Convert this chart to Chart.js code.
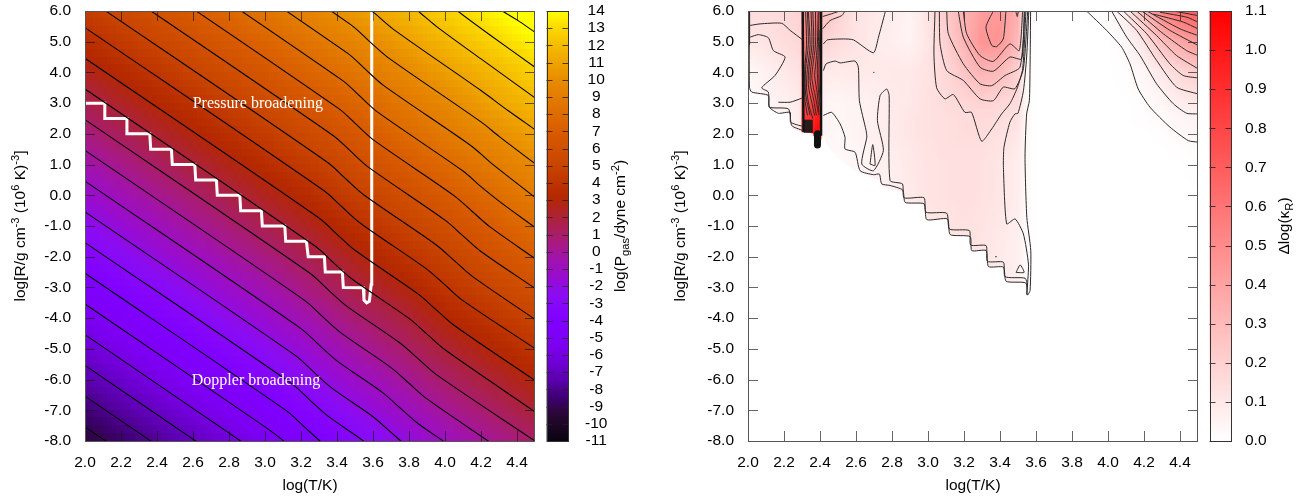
<!DOCTYPE html>
<html>
<head>
<meta charset="utf-8">
<title>Pressure and Doppler broadening</title>
<script src="https://cdn.jsdelivr.net/npm/chart.js@4"></script>
<style>
  html, body { margin:0; padding:0; background:#fff; }
  #wrap { position:relative; width:1308px; height:498px; overflow:hidden; }
  canvas { position:absolute; top:0; display:block; }
</style>
</head>
<body>
<div id="wrap">
  <canvas id="pressureChart" width="541" height="498" style="left:0"></canvas>
  <canvas id="pressureBar" width="119" height="498" style="left:541px"></canvas>
  <canvas id="deltaChart" width="544" height="498" style="left:660px"></canvas>
  <canvas id="deltaBar" width="104" height="498" style="left:1204px"></canvas>
</div>
<script>
/* ---------- Axis ticks ---------- */
const tempTicks = [2.0,2.2,2.4,2.6,2.8,3.0,3.2,3.4,3.6,3.8,4.0,4.2,4.4];
const radiusTicks = [6,5,4,3,2,1,0,-1,-2,-3,-4,-5,-6,-7,-8];
const pressureBarTicks = [14,13,12,11,10,9,8,7,6,5,4,3,2,1,0,-1,-2,-3,-4,-5,-6,-7,-8,-9,-10,-11];
const deltaBarTicks = [1.1,1.0,0.9,0.8,0.7,0.6,0.5,0.4,0.3,0.2,0.1,0.0];

/* ---------- Left panel: log Pgas ---------- */
const pressureT = [2.0,2.25,2.5,2.75,3.0,3.25,3.5,3.75,4.0,4.25,4.5];
const pressureR = [6,5,4,3,2,1,0,-1,-2,-3,-4,-5,-6,-7,-8];
const pressureGrid = [
  [4.54,5.54,6.54,7.54,8.54,9.54,10.54,11.64,12.74,13.74,14.74],
  [3.54,4.54,5.54,6.54,7.54,8.54,9.54,10.64,11.74,12.74,13.74],
  [2.54,3.54,4.54,5.54,6.54,7.54,8.54,9.64,10.74,11.74,12.74],
  [1.54,2.54,3.54,4.54,5.54,6.54,7.54,8.64,9.74,10.89,11.89],
  [0.54,1.54,2.54,3.54,4.54,5.54,6.54,7.75,8.84,9.89,10.89],
  [-0.46,0.54,1.54,2.54,3.54,4.54,5.69,6.75,7.84,8.89,9.89],
  [-1.46,-0.46,0.54,1.54,2.54,3.54,4.69,5.75,6.84,7.89,9.04],
  [-2.46,-1.46,-0.46,0.54,1.54,2.54,3.69,4.75,5.84,6.89,8.04],
  [-3.46,-2.46,-1.46,-0.46,0.54,1.54,2.69,3.8,4.84,6.04,7.04],
  [-4.46,-3.46,-2.46,-1.46,-0.46,0.64,1.81,2.8,4.04,5.04,6.04],
  [-5.46,-4.46,-3.46,-2.46,-1.46,-0.36,0.81,1.8,3.04,4.04,5.04],
  [-6.46,-5.46,-4.46,-3.46,-2.46,-1.36,-0.19,0.89,2.04,3.04,4.04],
  [-7.46,-6.46,-5.46,-4.46,-3.46,-2.36,-1.19,-0.11,1.04,2.04,3.04],
  [-8.46,-7.46,-6.46,-5.46,-4.46,-3.36,-2.19,-1.11,0.04,1.04,2.04],
  [-9.46,-8.46,-7.46,-6.46,-5.46,-4.36,-3.19,-2.11,-0.96,0.04,1.04]
];
const pressureStops = [-11,-9.5,-8.5,-7.5,-6.5,-5.5,-4,-2.5,-1.5,-0.5,0.5,1.5,2.5,3.2,4,5,7,8,10,11,12,13,14];
const pressureColors = ["#0a0410","#280832","#3e0070","#5a00aa","#6e00d2","#7c00f0","#8000ff","#8a0cf4","#980cd0","#a012b0","#a81a80","#aa2050","#b02420","#b42800","#be3400","#c84400","#d85c00","#de6c00","#e88c00","#efa400","#f5bc00","#fbd800","#ffff00"];

// isobars, one per integer level, as [logT, logR]
const pressureContours = [
  [[2,-7.54],[2.2,-8.34]],
  [[2,-6.54],[2.5,-8.54]],
  [[2,-5.54],[2.7,-8.34]],
  [[2,-4.54],[2.95,-8.34]],
  [[2,-3.54],[3.0,-7.54],[3.1,-7.98],[3.2,-8.5]],
  [[2,-2.54],[3.12,-7.02],[3.22,-7.55],[3.32,-8.07],[3.42,-8.5]],
  [[2,-1.54],[3.15,-6.14],[3.25,-6.67],[3.35,-7.19],[3.55,-8.01],[3.65,-8.5]],
  [[2,-0.54],[3.17,-5.22],[3.27,-5.75],[3.37,-6.27],[3.6,-7.21],[3.7,-7.72],[3.8,-8.23]],
  [[2,0.46],[3.2,-4.34],[3.3,-4.87],[3.4,-5.39],[3.65,-6.41],[3.75,-6.92],[3.85,-7.43],[4.0,-8.04]],
  [[2,1.46],[3.22,-3.42],[3.32,-3.95],[3.42,-4.47],[3.7,-5.61],[3.8,-6.12],[3.9,-6.63],[4.25,-8.04]],
  [[2,2.46],[3.25,-2.54],[3.35,-3.07],[3.45,-3.59],[3.75,-4.81],[3.85,-5.32],[3.95,-5.83],[4.5,-8.0]],
  [[2,3.46],[3.28,-1.66],[3.38,-2.19],[3.48,-2.71],[3.8,-4.01],[3.9,-4.52],[4.0,-5.03],[4.5,-7.05]],
  [[2,4.46],[3.3,-0.74],[3.4,-1.27],[3.5,-1.79],[3.85,-3.21],[3.95,-3.72],[4.05,-4.23],[4.5,-6.03]],
  [[2,5.46],[3.33,0.14],[3.43,-0.39],[3.53,-0.91],[3.9,-2.41],[4.0,-2.92],[4.1,-3.43],[4.5,-4.99]],
  [[2,6.46],[3.35,1.06],[3.45,0.53],[3.55,0.01],[3.95,-1.61],[4.05,-2.12],[4.15,-2.63],[4.5,-4.04]],
  [[2,7.46],[3.38,1.94],[3.48,1.41],[3.58,0.89],[4.0,-0.81],[4.1,-1.32],[4.2,-1.83],[4.5,-3.03]],
  [[2,8.46],[3.41,2.82],[3.51,2.29],[3.61,1.77],[4.05,-0.01],[4.15,-0.52],[4.25,-1.03],[4.5,-2.06]],
  [[2,9.46],[3.43,3.74],[3.53,3.21],[3.63,2.69],[4.1,0.79],[4.2,0.28],[4.3,-0.19],[4.5,-1.05]],
  [[2,10.46],[3.46,4.62],[3.56,4.09],[3.66,3.57],[4.15,1.59],[4.25,1.08],[4.5,-0.07]],
  [[2.5,9.46],[3.48,5.54],[3.58,5.01],[3.68,4.5],[4.2,2.39],[4.3,1.92],[4.5,1.03]],
  [[3.0,8.46],[3.5,6.46],[3.61,5.92],[3.71,5.42],[4.2,3.41],[4.35,2.76],[4.5,2.14]],
  [[3.75,6.46],[3.85,6.0],[3.95,5.51],[4.2,4.44],[4.5,3.17]],
  [[3.95,6.56],[4.07,6.0],[4.25,5.22],[4.5,4.17]],
  [[4.2,6.54],[4.32,6.0],[4.4,5.71],[4.5,5.31]]
];

// white border between the two broadening regimes
const regimeLine = [[2,3],[2.11,3],[2.11,2.5],[2.233,2.5],[2.233,2],[2.36,2],[2.365,1.5],[2.48,1.5],[2.485,1],[2.61,1],
  [2.615,0.5],[2.73,0.5],[2.735,0],[2.86,0],[2.865,-0.5],[2.98,-0.5],[2.985,-1],[3.11,-1],[3.115,-1.5],[3.23,-1.5],
  [3.24,-2],[3.33,-2],[3.335,-2.5],[3.43,-2.5],[3.435,-3],[3.546,-3.01],[3.55,-3.41],[3.565,-3.5],[3.58,-3.45],
  [3.59,-2.9],[3.593,6]];

const regimeLabels = ["Pressure broadening","Doppler broadening"];
const regimeLabelT = [2.96,2.95];
const regimeLabelR = [2.98,-6.03];

/* ---------- Right panel: delta log kappa ---------- */
const deltaT = [2.0,2.1,2.2,2.3,2.31,2.35,2.4,2.41,2.5,2.6,2.7,2.8,2.9,3.0,3.1,3.2,3.3,3.4,3.5,3.55,3.6,3.8,4.0,4.1,4.2,4.3,4.4,4.5];
const deltaR = [6,5,4,3,2.5,2,1.5,1,0,-1,-2,-3,-3.5];
const deltaGrid = [
  [.16,.15,.16,.2,.5,.55,.62,.3,.2,.12,.1,.08,.05,.12,.22,.33,.42,.44,.35,.05,0,0,.01,.08,.3,.55,.65,.72],
  [.1,.12,.15,.17,.55,.6,.68,.2,.15,.12,.09,.07,.05,.11,.2,.32,.46,.46,.3,.04,0,0,0,.03,.12,.28,.38,.45],
  [.03,.06,.1,.13,.65,.7,.8,.1,.09,.1,.09,.1,.1,.12,.17,.25,.33,.3,.2,.03,0,0,0,.01,.04,.1,.17,.22],
  [.03,.05,.06,.1,.75,.8,.95,.05,.04,.05,.07,.09,.1,.13,.15,.17,.19,.17,.15,.03,0,0,0,0,.01,.04,.08,.1],
  [.03,.06,.06,.08,.85,.9,1.0,.06,.04,.05,.07,.09,.11,.13,.14,.15,.16,.15,.13,.03,0,0,0,0,.01,.02,.04,.06],
  [.03,.06,.06,.08,.9,.95,1.1,.05,.03,.05,.07,.09,.11,.13,.14,.15,.15,.13,.11,.03,0,0,0,0,0,.01,.03,.04],
  [.03,.06,.06,.08,.9,.95,1.1,.03,.03,.04,.06,.08,.1,.12,.14,.14,.14,.12,.09,.03,0,0,0,0,0,0,.01,.02],
  [.03,.03,.03,.03,.03,.03,.03,.03,.02,.04,.06,.07,.1,.12,.13,.14,.13,.11,.08,.03,0,0,0,0,0,0,0,.01],
  [.03,.03,.03,.03,.03,.03,.03,.03,.02,.04,.05,.07,.09,.12,.13,.14,.13,.11,.08,.02,0,0,0,0,0,0,0,0],
  [.03,.03,.03,.03,.03,.03,.03,.03,.02,.04,.05,.07,.09,.1,.12,.13,.12,.1,.07,.02,0,0,0,0,0,0,0,0],
  [.03,.03,.03,.03,.03,.03,.03,.03,.02,.04,.05,.07,.09,.1,.12,.12,.11,.09,.07,.02,0,0,0,0,0,0,0,0],
  [.03,.03,.03,.03,.03,.03,.03,.03,.02,.04,.05,.07,.09,.1,.12,.12,.11,.09,.07,.02,0,0,0,0,0,0,0,0],
  [.03,.03,.03,.03,.03,.03,.03,.03,.02,.04,.05,.07,.09,.1,.12,.12,.11,.09,.07,.02,0,0,0,0,0,0,0,0]
];
const deltaStops = [0,1.1];
const deltaColors = ["#ffffff","#ff0000"];

// edge of the tabulated region, nothing is shaded outside it
const deltaEdge = [[2,6],[2,3.46],[2.021,3.3],[2.108,3.22],[2.119,2.76],[2.23,2.65],[2.243,2.16],[2.308,2.05],[2.363,2.02],
  [2.373,1.7],[2.397,1.7],[2.419,1.94],[2.447,1.56],[2.493,1.24],[2.613,0.75],[2.734,0.48],[2.743,0.28],[2.863,0.1],
  [2.873,-0.28],[2.978,-0.28],[2.993,-0.79],[3.108,-0.77],[3.123,-1.28],[3.234,-1.345],[3.243,-1.8],[3.323,-1.8],
  [3.336,-2.32],[3.419,-2.34],[3.434,-2.8],[3.543,-2.85],[3.552,-3.25],[3.571,-3.1],[3.59,-2],[3.6,0],[4.5,0],[4.5,6]];

const deltaContours = [
  [[2.008,6],[2.008,3.52],[2.021,3.36],[2.113,3.25],[2.119,2.87],[2.225,2.81],[2.243,2.27],[2.304,2.11]],
  [[2.012,5.15],[2.058,5.23],[2.113,5.13],[2.141,4.71],[2.206,4.5],[2.15,3.9],[2.076,3.5],[2.113,3.36],[2.119,2.87],[2.169,2.67],[2.234,2.7],[2.237,2.38],[2.304,2.24]],
  [[2.169,3.03],[2.234,3.03],[2.299,3.16]],
  [[2.012,5.53],[2.067,5.58],[2.187,5.6],[2.234,5.37],[2.304,5.06]],
  [[2.415,5.82],[2.475,5.93],[2.512,6]],
  [[2.415,5.42],[2.456,5.69],[2.521,5.85],[2.539,6]],
  [[2.419,4.93],[2.441,5.06],[2.53,5.09],[2.586,5.06],[2.697,4.64],[2.725,5.15],[2.762,5.96],[2.765,6]],
  [[2.419,4.06],[2.434,4.28],[2.484,4.37],[2.512,4.31],[2.595,4.37],[2.613,4.17],[2.619,3.08],[2.656,2.11],[2.66,1.89],[2.632,1.02],[2.697,0.8],[2.752,1.46],[2.719,2.43],[2.734,3.25],[2.771,3.46],[2.784,3.25],[2.789,0.48],[2.858,0.37],[2.867,-0.08],[2.978,-0.08],[2.989,-0.55],[3.104,-0.585],[3.119,-1.1],[3.23,-1.15],[3.237,-1.62],[3.323,-1.64],[3.33,-2.15],[3.419,-2.18],[3.428,-2.65],[3.539,-2.7],[3.552,-2.94],[3.548,-3.23]],
  [[2.678,1.02],[2.693,1.65],[2.706,0.97],[2.678,1.02]],
  [[2.419,2.6],[2.465,2.7],[2.512,2.32],[2.539,1.89],[2.539,1.51],[2.595,1.4],[2.623,0.8],[2.697,0.67],[2.73,0.69],[2.743,0.37],[2.789,0.32],[2.86,0.17],[2.873,-0.23],[2.978,-0.28],[2.993,-0.79],[3.108,-0.77],[3.123,-1.28],[3.234,-1.345],[3.243,-1.8],[3.323,-1.8],[3.336,-2.32],[3.419,-2.34],[3.434,-2.8],[3.543,-2.855],[3.552,-3.25],[3.567,-3.1],[3.571,-1.8],[3.549,-0.72],[3.539,1.24],[3.548,2.65],[3.563,3.08],[3.567,4.17],[3.57,6]],
  [[3.552,-3.0],[3.558,-2.24],[3.53,-1.26],[3.484,-0.77],[3.437,-0.93],[3.419,0.91],[3.422,1.56],[3.455,2.38],[3.483,2.65],[3.5,2.67],[3.53,3.4],[3.548,4.5],[3.56,6]],
  [[3.489,-2.51],[3.512,-2.27],[3.534,-2.51],[3.489,-2.51]],
  [[3.373,-2.0],[3.382,-2.0]],
  [[2.695,4.0],[2.702,4.0]],
  [[3.039,6],[3.033,4.6],[3.048,3.5],[3.094,3.14],[3.141,3.28],[3.205,2.7],[3.242,2.7],[3.298,1.76],[3.354,2.16],[3.409,2.65],[3.455,2.98],[3.496,3.5],[3.526,4.12],[3.544,6]],
  [[3.063,6],[3.067,4.93],[3.104,4.06],[3.196,3.74],[3.289,3.14],[3.363,3.08],[3.418,3.52],[3.483,3.47],[3.53,4.12],[3.554,6]],
  [[3.104,6],[3.113,5.26],[3.196,4.28],[3.289,3.63],[3.354,3.57],[3.428,3.9],[3.511,4.17],[3.539,6]],
  [[3.168,6],[3.196,5.15],[3.289,4.17],[3.363,4.04],[3.455,4.5],[3.52,4.44],[3.535,6]],
  [[3.196,6],[3.215,5.26],[3.289,4.55],[3.363,4.36],[3.455,4.93],[3.507,4.71],[3.526,6]],
  [[3.363,6],[3.322,5.47],[3.354,4.88],[3.381,4.84],[3.418,5.09],[3.433,6]],
  [[3.489,5.96],[3.496,5.82],[3.502,6]],
  [[3.881,6],[3.992,5.37],[4.076,4.82],[4.122,4.28],[4.168,3.46],[4.233,2.87],[4.344,2.22],[4.446,1.78],[4.5,1.73]],
  [[4.02,6],[4.104,5.15],[4.178,4.55],[4.27,3.63],[4.363,2.98],[4.437,2.67],[4.5,2.65]],
  [[4.048,6],[4.159,5.37],[4.27,4.39],[4.381,3.52],[4.5,3.3]],
  [[4.085,6],[4.215,5.26],[4.344,4.28],[4.418,3.9],[4.5,3.82]],
  [[4.122,6],[4.27,5.2],[4.381,4.55],[4.5,4.12]],
  [[4.159,6],[4.307,5.26],[4.437,4.71],[4.5,4.55]],
  [[4.187,6],[4.344,5.37],[4.5,4.88]],
  [[4.215,6],[4.4,5.42],[4.5,5.2]],
  [[4.252,5.9],[4.418,5.64],[4.5,5.42]],
  [[4.289,5.96],[4.437,5.8],[4.5,5.64]],
  [[4.363,6],[4.5,5.85]]
];

// narrow opacity spike near logT 2.35
const spikeLines = [
  [[2.32,6],[2.325,4.9],[2.315,4.1],[2.315,3.2],[2.33,2.6]],
  [[2.33,6],[2.335,4.9],[2.32,4.1],[2.32,3.3],[2.345,2.6]],
  [[2.335,6],[2.345,4.9],[2.33,4.1],[2.325,3.5],[2.34,2.9],[2.36,2.5]],
  [[2.35,6],[2.355,4.9],[2.34,4.2],[2.335,3.6],[2.355,3.0],[2.37,2.6]],
  [[2.36,6],[2.365,4.9],[2.35,4.2],[2.345,3.7],[2.365,3.1],[2.38,2.6]],
  [[2.375,6],[2.375,4.9],[2.36,4.2],[2.355,3.8],[2.375,3.2],[2.39,2.7]],
  [[2.39,6],[2.385,4.9],[2.375,4.2],[2.37,3.9],[2.385,3.3],[2.395,2.6]],
  [[2.395,6],[2.39,4.7],[2.385,4.1],[2.39,3.5],[2.4,2.9]],
  [[2.4,5.4],[2.395,4.4],[2.395,3.6],[2.403,3.0]]
];
const spikeWalls = [
  [[2.005,6],[2.005,4.9]],
  [[2.304,6],[2.308,2.05]],
  [[2.406,6],[2.406,1.94]]
];
const spikeFoot = [[2.31,2.25],[2.36,2.25]];
const spikeTip = [[2.386,2.0],[2.386,1.64]];

/* ---------- Axis titles with super and subscripts ---------- */
const SUP=-6.5, SUB=4;
const radiusTitle=[["log[R/g cm",0],["-3",SUP],[" (10",0],["6",SUP],[" K)",0],["-3",SUP],["]",0]];
const pressureTitle=[["log(P",0],["gas",SUB],["/dyne cm",0],["-2",SUP],[")",0]];
const deltaTitle=[["Δlog(κ",0],["R",SUB],[")",0]];

/* ---------- Helpers ---------- */
const AXIS_FONT = "'Liberation Sans', Arial, sans-serif";
const FS = 15.5;

function toPoints(list){ return list.map(p => ({x:p[0], y:p[1]})); }

function hexRgb(h){ return [parseInt(h.slice(1,3),16),parseInt(h.slice(3,5),16),parseInt(h.slice(5,7),16)]; }

function paletteColor(stops, colors, v){
  if(v <= stops[0]) return colors[0];
  for(let i=1;i<stops.length;i++){
    if(v <= stops[i]){
      const f = (v-stops[i-1])/(stops[i]-stops[i-1]);
      const a = hexRgb(colors[i-1]), b = hexRgb(colors[i]);
      return `rgb(${Math.round(a[0]+(b[0]-a[0])*f)},${Math.round(a[1]+(b[1]-a[1])*f)},${Math.round(a[2]+(b[2]-a[2])*f)})`;
    }
  }
  return colors[colors.length-1];
}

function bracket(arr, v){
  // arr may run either way; returns index and fraction
  const asc = arr[1] > arr[0];
  for(let i=0;i<arr.length-1;i++){
    const lo = arr[i], hi = arr[i+1];
    if(asc ? v <= hi : v >= hi) return [i,(v-lo)/(hi-lo)];
  }
  return [arr.length-2,1];
}

function gridValue(xs, ys, grid, x, y){
  const [i,fx] = bracket(xs,x), [j,fy] = bracket(ys,y);
  return (grid[j][i]*(1-fx)+grid[j][i+1]*fx)*(1-fy)+(grid[j+1][i]*(1-fx)+grid[j+1][i+1]*fx)*fy;
}

// kept outside chart options so Chart.js does not wrap them in its resolver
const heatTables = {
  pressure:{ xs:pressureT, ys:pressureR, grid:pressureGrid, stops:pressureStops, colors:pressureColors, stepT:0.025, stepR:0.25 },
  delta:{ xs:deltaT, ys:deltaR, grid:deltaGrid, stops:deltaStops, colors:deltaColors, stepT:0.0125, stepR:0.0625, edge:deltaEdge }
};
const titleTable = { radius:radiusTitle, pressure:pressureTitle, delta:deltaTitle };

/* shaded cells, placed by the chart's own scales */
const heatPlugin = {
  id:"heat",
  beforeDatasetsDraw(chart, args, opts){
    const o = heatTables[opts.table];
    if(!o) return;
    const {ctx, chartArea:a, scales:{x,y}} = chart;
    ctx.save();
    ctx.beginPath(); ctx.rect(a.left,a.top,a.width,a.height); ctx.clip();
    if(o.edge){
      ctx.beginPath();
      o.edge.forEach((p,i)=>{
        const px=x.getPixelForValue(p[0]), py=y.getPixelForValue(p[1]);
        i ? ctx.lineTo(px,py) : ctx.moveTo(px,py);
      });
      ctx.closePath(); ctx.clip();
    }
    const nx = Math.round((x.max-x.min)/o.stepT), ny = Math.round((y.max-y.min)/o.stepR);
    for(let i=0;i<nx;i++){
      const t0=x.min+i*o.stepT, t1=t0+o.stepT;
      const px0=Math.floor(x.getPixelForValue(t0)), px1=Math.ceil(x.getPixelForValue(t1));
      for(let j=0;j<ny;j++){
        const r0=y.max-j*o.stepR, r1=r0-o.stepR;
        const py0=Math.floor(y.getPixelForValue(r0)), py1=Math.ceil(y.getPixelForValue(r1));
        const v=gridValue(o.xs,o.ys,o.grid,(t0+t1)/2,(r0+r1)/2);
        ctx.fillStyle=paletteColor(o.stops,o.colors,v);
        ctx.fillRect(px0,py0,px1-px0,py1-py0);
      }
    }
    ctx.restore();
  }
};

function drawTicks(chart, o){
  const {ctx, chartArea:a, scales:{x,y}} = chart;
  ctx.save();
  ctx.lineWidth=1;
  ctx.strokeStyle=o.tickColor;
  ctx.beginPath();
  if(o.xTicks){
    x.ticks.forEach(t=>{
      const p=Math.round(x.getPixelForValue(t.value))+.5;
      ctx.moveTo(p,a.bottom); ctx.lineTo(p,a.bottom-o.len);
      ctx.moveTo(p,a.top); ctx.lineTo(p,a.top+o.len);
    });
  }
  y.ticks.forEach(t=>{
    const p=Math.round(y.getPixelForValue(t.value))+.5;
    ctx.moveTo(a.left,p); ctx.lineTo(a.left+o.len,p);
    ctx.moveTo(a.right,p); ctx.lineTo(a.right-o.len,p);
  });
  ctx.stroke();
  ctx.restore();
}

/* gnuplot style frame: ticks inside on all four sides */
const framePlugin = {
  id:"frame",
  beforeDatasetsDraw(chart, args, o){
    if(o.xTicks) drawTicks(chart,o);   // on the panels the lines run over the ticks
  },
  afterDatasetsDraw(chart, args, o){
    const {ctx, chartArea:a, scales:{x,y}} = chart;
    if(!o.xTicks) drawTicks(chart,o);
    ctx.save();
    ctx.lineWidth=1;
    ctx.strokeStyle=o.borderColor;
    ctx.strokeRect(Math.round(a.left)+.5,Math.round(a.top)+.5,Math.round(a.width)-1,Math.round(a.height));
    if(o.notes){
      ctx.fillStyle="#fff";
      ctx.font="16px 'Liberation Serif', 'Times New Roman', serif";
      ctx.textAlign="center"; ctx.textBaseline="middle";
      o.notes.forEach((s,i)=> ctx.fillText(s,x.getPixelForValue(regimeLabelT[i]),y.getPixelForValue(regimeLabelR[i])));
    }
    ctx.restore();
  }
};

/* rotated axis title */
const richTitlePlugin = {
  id:"richTitle",
  afterDraw(chart, args, o){
    const parts=titleTable[o.name];
    if(!parts) return;
    const ctx=chart.ctx;
    ctx.save();
    ctx.translate(o.x,o.y);
    ctx.rotate(-Math.PI/2);
    ctx.fillStyle="#000";
    ctx.textBaseline="alphabetic"; ctx.textAlign="left";
    const fontOf=p=>`${p[1]?FS*0.72:FS}px ${AXIS_FONT}`;
    let w=0;
    parts.forEach(p=>{ ctx.font=fontOf(p); w+=ctx.measureText(p[0]).width; });
    let cx=-w/2;
    parts.forEach(p=>{
      ctx.font=fontOf(p);
      ctx.fillText(p[0],cx,p[1]);
      cx+=ctx.measureText(p[0]).width;
    });
    ctx.restore();
  }
};

function lineSet(list, color, width, tension, cap){
  return { type:"scatter", data:toPoints(list), showLine:true, borderColor:color, borderWidth:width,
           pointRadius:0, tension:tension, fill:false, borderCapStyle:cap||"butt" };
}

function noEdgePadding(s){ s.paddingTop=0; s.paddingBottom=0; s.paddingLeft=0; s.paddingRight=0; }

function panelOptions(leftWidth, rightPad, heat, frame, title){
  return {
    responsive:false, animation:false, events:[],
    layout:{ padding:{top:11,right:rightPad,left:0,bottom:0} },
    plugins:{ legend:{display:false}, tooltip:{enabled:false}, heat:heat, frame:frame, richTitle:title },
    scales:{
      x:{ type:"linear", min:2, max:4.5,
          grid:{display:false,drawTicks:false}, border:{display:false},
          afterBuildTicks:s=>{ s.ticks=tempTicks.map(v=>({value:v})); },
          afterFit:s=>{ s.height=57; noEdgePadding(s); },
          ticks:{ autoSkip:false, maxRotation:0, padding:12, color:"#000", font:{family:AXIS_FONT,size:FS}, callback:v=>Number(v).toFixed(1) },
          title:{ display:true, text:"log(T/K)", color:"#000", font:{family:AXIS_FONT,size:FS}, padding:{top:0,bottom:3} } },
      y:{ type:"linear", min:-8, max:6,
          grid:{display:false,drawTicks:false}, border:{display:false},
          afterBuildTicks:s=>{ s.ticks=radiusTicks.map(v=>({value:v})); },
          afterFit:s=>{ s.width=leftWidth; noEdgePadding(s); },
          ticks:{ autoSkip:false, padding:14, color:"#000", font:{family:AXIS_FONT,size:FS}, callback:v=>Number(v).toFixed(1) } }
    }
  };
}

function colorBar(id, lo, hi, stops, colors, tickList, fmt, barLeft, axisWidth, labelPad, title){
  new Chart(document.getElementById(id), {
    type:"bar",
    plugins:[framePlugin, richTitlePlugin],
    data:{ labels:[""], datasets:[{
      data:[[lo,hi]], barPercentage:1, categoryPercentage:1, borderWidth:0,
      backgroundColor:ctx=>{
        const c=ctx.chart, a=c.chartArea;
        if(!a) return colors[0];
        const g=c.ctx.createLinearGradient(0,a.bottom,0,a.top);
        stops.forEach((s,i)=> g.addColorStop((s-lo)/(hi-lo),colors[i]));
        return g;
      }
    }]},
    options:{
      responsive:false, animation:false, events:[],
      layout:{ padding:{top:11,left:barLeft,right:0,bottom:57} },
      plugins:{ legend:{display:false}, tooltip:{enabled:false},
        frame:{ len:6, tickColor:"rgba(30,30,30,.8)", borderColor:"#333", xTicks:false }, richTitle:title },
      scales:{
        x:{ display:false },
        y:{ position:"right", min:lo, max:hi, grid:{display:false,drawTicks:false}, border:{display:false},
            afterBuildTicks:s=>{ s.ticks=tickList.map(v=>({value:v})); },
            afterFit:s=>{ s.width=axisWidth; noEdgePadding(s); },
            ticks:{ autoSkip:false, padding:labelPad, crossAlign:"center", color:"#000", font:{family:AXIS_FONT,size:FS}, callback:fmt } }
      }
    }
  });
}

/* ---------- Charts ---------- */
new Chart(document.getElementById("pressureChart"), {
  type:"scatter",
  plugins:[heatPlugin, framePlugin, richTitlePlugin],
  data:{ datasets:[
    ...pressureContours.map(c=>lineSet(c,"#000",1.05,0.3)),
    lineSet(regimeLine,"#fff",3,0)
  ]},
  options:panelOptions(85,6,
    { table:"pressure" },
    { len:10, tickColor:"rgba(20,20,20,.65)", borderColor:"#555", xTicks:true, notes:regimeLabels },
    { name:"radius", x:25, y:226 })
});

colorBar("pressureBar",-11,14,pressureStops,pressureColors,pressureBarTicks,v=>String(v),5.5,91.5,16.5,
  { name:"pressure", x:84, y:226 });

new Chart(document.getElementById("deltaChart"), {
  type:"scatter",
  plugins:[heatPlugin, framePlugin, richTitlePlugin],
  data:{ datasets:[
    ...deltaContours.map(c=>lineSet(c,"#2a2a2a",1,0.2)),
    ...spikeLines.map(c=>lineSet(c,"#2a2a2a",1,0.3)),
    ...spikeWalls.map(c=>lineSet(c,"#111",2.4,0)),
    lineSet(spikeFoot,"rgba(25,25,25,.92)",13,0),
    lineSet(spikeTip,"#111",7,0,"round")
  ]},
  options:panelOptions(88,6,
    { table:"delta" },
    { len:10, tickColor:"rgba(20,20,20,.65)", borderColor:"#555", xTicks:true },
    { name:"radius", x:25, y:226 })
});

colorBar("deltaBar",0,1.1,deltaStops,deltaColors,deltaBarTicks,v=>Number(v).toFixed(1),5.5,76.5,13.5,
  { name:"delta", x:85, y:226 });
</script>
</body>
</html>
